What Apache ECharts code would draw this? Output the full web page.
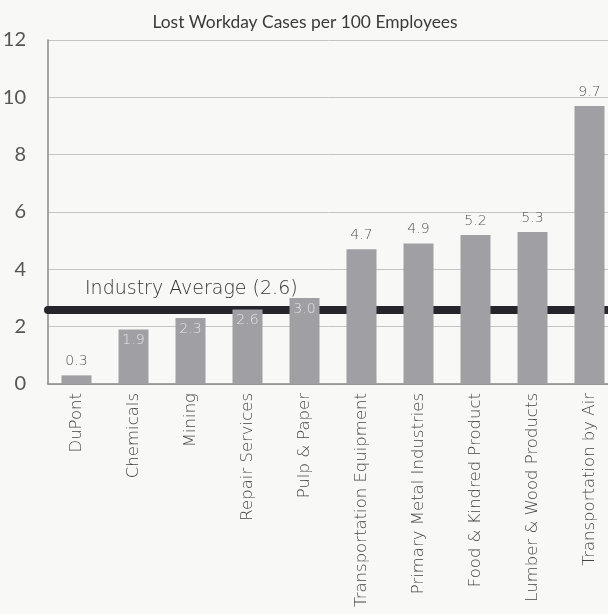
<!DOCTYPE html>
<html><head><meta charset="utf-8">
<script src="https://cdn.jsdelivr.net/npm/echarts@6/dist/echarts.min.js"></script>
<style>html,body{margin:0;padding:0;background:#f8f8f7}#c{width:608px;height:614px}</style>
</head><body><div id="c"></div>
<script>
const categories = ['DuPont','Chemicals','Mining','Repair Services','Pulp & Paper','Transportation Equipment','Primary Metal Industries','Food & Kindred Product','Lumber & Wood Products','Transportation by Air'];
const values = [0.3, 1.9, 2.3, 2.6, 3.0, 4.7, 4.9, 5.2, 5.3, 9.7];
const labelsInside = ['Chemicals','Mining','Repair Services','Pulp & Paper'];
const industryAverage = 2.6;
const yTicks = [0, 2, 4, 6, 8, 10, 12];
const FONT = 'Lato';
const FONT2 = 'DejaVu Sans';

const chart = echarts.init(document.getElementById('c'));
chart.setOption({
  backgroundColor: '#f8f8f7',
  animation: false,
  title: {
    text: 'Lost Workday Cases per 100 Employees',
    left: 300, top: 9, textAlign: 'center',
    textStyle: {fontFamily: FONT, fontWeight: 'normal', fontSize: 17.4, color: '#3a3a3a'}
  },
  grid: {left: 48, top: 40, bottom: 230, width: 570, outerBoundsMode: 'none', containLabel: false},
  xAxis: {
    type: 'category', data: categories,
    axisLine: {show: true, lineStyle: {color: '#888', width: 1.5}},
    axisTick: {show: false},
    axisLabel: {rotate: 90, interval: 0, fontFamily: FONT2, fontWeight: 200, fontSize: 16.5, color: '#444', margin: 9}
  },
  yAxis: {
    type: 'value', min: yTicks[0], max: yTicks[yTicks.length-1], interval: 2,
    axisLine: {show: true, lineStyle: {color: '#888', width: 1.5}},
    axisTick: {show: false},
    splitLine: {lineStyle: {color: '#c4c4c4', width: 1}},
    axisLabel: {fontFamily: FONT, fontSize: 20, color: '#555', margin: 22}
  },
  series: [
    {
      type: 'line', data: [], z: 1, silent: true,
      markLine: {
        z: 1,
        symbol: ['none','none'], silent: true,
        lineStyle: {color: '#25252b', width: 8, type: 'solid', cap: 'round'},
        label: {
          show: true, position: 'insideStartTop', formatter: 'Industry Average (' + industryAverage.toFixed(1) + ')',
          fontFamily: FONT2, fontWeight: 200, fontSize: 19, color: '#333', padding: [0, 0, 6, 32]
        },
        data: [{yAxis: industryAverage}]
      }
    },
    {
      type: 'bar', z: 10, barWidth: 30,
      itemStyle: {color: '#9f9fa4'},
      data: values.map((v, i) => {
        const inside = labelsInside.includes(categories[i]);
        return {
          value: v,
          label: inside
            ? {show: true, position: 'insideTop', distance: 4, color: '#e6e6e6', fontFamily: FONT2, fontWeight: 200, fontSize: 14, formatter: p => p.value.toFixed(1)}
            : {show: true, position: 'top', distance: 7, color: '#555', fontFamily: FONT2, fontWeight: 200, fontSize: 14, formatter: p => p.value.toFixed(1)}
        };
      })
    }
  ]
});
</script></body></html>
